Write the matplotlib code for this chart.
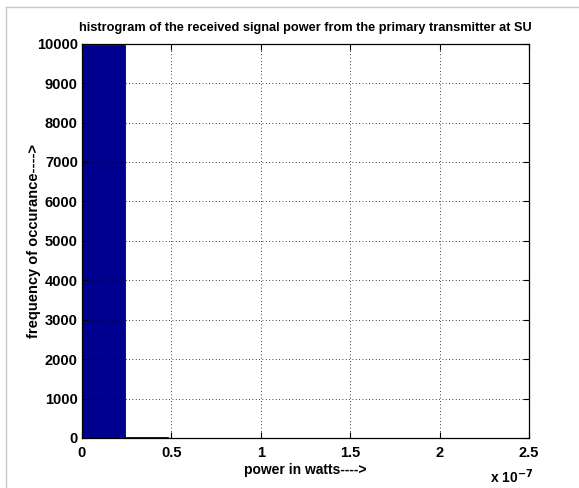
import matplotlib.pyplot as plt
from matplotlib.lines import Line2D

plt.rcParams['font.family'] = ['Liberation Sans', 'DejaVu Sans']
plt.rcParams['font.weight'] = 'bold'

# histogram of received power: 10 equal bins between min and max sample
bin_edges = [0.0, 0.24e-7, 0.48e-7, 0.72e-7, 0.96e-7, 1.20e-7,
             1.44e-7, 1.68e-7, 1.92e-7, 2.16e-7, 2.40e-7]
counts = [9975, 20, 3, 1, 0, 0, 0, 0, 0, 1]

x_ticks = [0, 0.5e-7, 1.0e-7, 1.5e-7, 2.0e-7, 2.5e-7]
x_tick_labels = ['0', '0.5', '1', '1.5', '2', '2.5']
y_ticks = list(range(0, 10001, 1000))

fig = plt.figure(figsize=(5.79, 4.88), dpi=100)
ax = fig.add_axes([0.1416, 0.1025, 0.772, 0.808])

widths = [bin_edges[i + 1] - bin_edges[i] for i in range(len(counts))]
ax.bar(bin_edges[:-1], counts, width=widths, align='edge',
       color='#00008f', edgecolor='#00005a', linewidth=0.6)

ax.set_xlim(0, 2.5e-7)
ax.set_ylim(0, 10000)
ax.set_xticks(x_ticks)
ax.set_xticklabels(x_tick_labels)
ax.set_yticks(y_ticks)
ax.tick_params(direction='in', length=4, labelsize=10.5, width=0.8,
               top=True, right=True)
ax.tick_params(axis='x', pad=6)
ax.tick_params(axis='y', pad=3)
ax.grid(True, color='black', linestyle=(0, (1, 3)), linewidth=0.6)
ax.set_axisbelow(False)
for s in ax.spines.values():
    s.set_linewidth(0.9)

ax.set_title('histrogram of the received signal power from the primary transmitter at SU',
             fontsize=9.2, fontweight='bold', pad=9)
ax.set_xlabel('power in watts---->', fontsize=10, fontweight='bold', labelpad=2)
ax.set_ylabel('frequency of occurance---->', fontsize=10.5, fontweight='bold', labelpad=-3)

fig.text(0.847, 0.011, r'x 10$^{\mathbf{-7}}$', fontsize=10, fontweight='bold')

# thin frame on the top and left edges
fig.add_artist(Line2D([0.0104, 0.0104], [0.0, 0.9857], transform=fig.transFigure,
                      color='#c8c8c8', linewidth=1))
fig.add_artist(Line2D([0.0104, 1.0], [0.9857, 0.9857], transform=fig.transFigure,
                      color='#c8c8c8', linewidth=1))

fig.savefig('out.png', dpi=100)
